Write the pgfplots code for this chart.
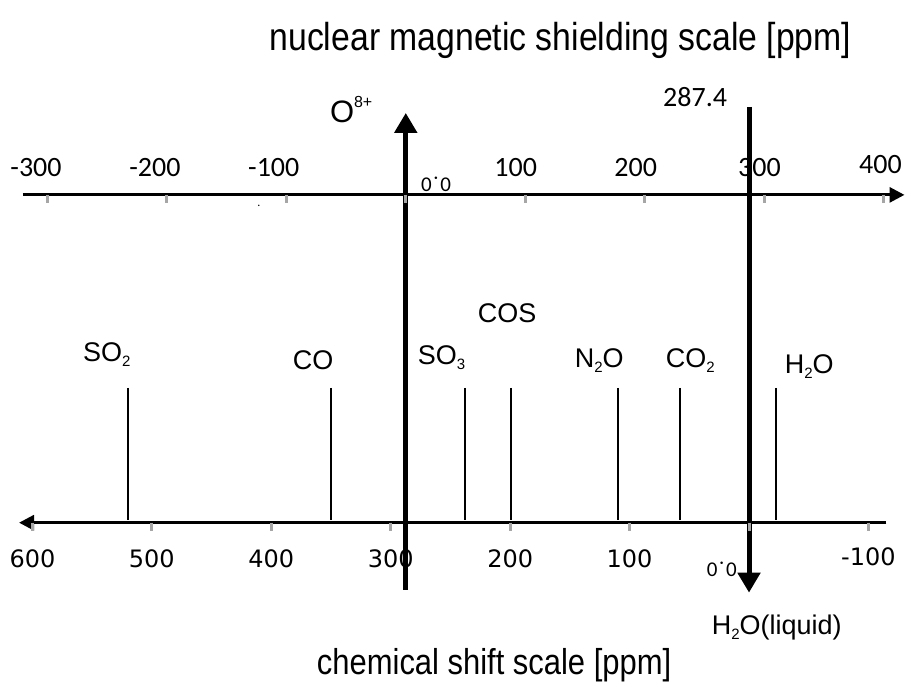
\documentclass[border=0pt]{standalone}
\usepackage{fontspec}
\setmainfont{Liberation Sans}
\newfontfamily\calibri{Carlito}
\newfontfamily\dejavu{DejaVu Sans}
\usepackage{graphicx}
\usepackage{pgfplots}
\pgfplotsset{compat=1.18}
\usepackage{pgfplotstable}
\usetikzlibrary{arrows.meta}

% 17O chemical shifts (ppm, relative to liquid water); mid = centre height of the stick
\pgfplotstableread{
delta mid
520 228
350 228
238 228
199 228
110 228
58  228
-23 228
}\molecules

% tick positions of the two scales
\pgfplotstableread{
sigma pos
-300 483
-200 483
-100 483
0    483
100  483
200  483
300  483
400  483
}\shieldticks

\pgfplotstableread{
delta pos
600  155
500  155
400  155
300  155
200  155
100  155
0    155
-100 155
}\shiftticks

\newcommand\fs[1]{\fontsize{#1}{#1}\selectfont}
\newcommand\lowidx[1]{\raisebox{-0.32ex}{\fs{15}#1}}
\newcommand\highidx[1]{\raisebox{0.95ex}{\fs{16}#1}}

\begin{document}
\begin{tikzpicture}
\begin{axis}[
  scale only axis, width=906pt, height=682pt,
  xmin=-339.75, xmax=418.41, ymin=0, ymax=682,
  hide axis, clip=false]
\path (rel axis cs:0,0) rectangle (rel axis cs:1,1);

% shielding scale (top), pointing right
\addplot[black, line width=3pt, -{Triangle[length=15pt,width=15pt]}]
  coordinates {(-320.5,487) (417.6,487)};
\addplot[only marks, mark=|, mark size=4pt, mark options={gray!70, line width=3pt}]
  table[x=sigma, y=pos] {\shieldticks};

% chemical shift scale (bottom), pointing left; sigma = 287.4 - delta
\addplot[black, line width=3pt, -{Triangle[length=15pt,width=15pt]}]
  coordinates {(402.5,159) (-323.8,159)};
\addplot[only marks, mark=|, mark size=4pt, mark options={gray!70, line width=3pt}]
  table[x expr=287.4-\thisrow{delta}, y=pos] {\shiftticks};

% molecules
\addplot[only marks, mark=|, mark size=66pt, mark options={black, line width=2pt}]
  table[x expr=287.4-\thisrow{delta}, y=mid] {\molecules};

% bare O8+ nucleus and liquid water references
\addplot[black, line width=5pt, -{Triangle[length=20pt,width=22pt]}]
  coordinates {(0,92) (0,569)};
\addplot[black, line width=5pt, -{Triangle[length=20pt,width=22pt]}]
  coordinates {(287.4,575) (287.4,89)};

% top tick labels
\begin{scope}[every node/.style={anchor=base, font=\calibri\fs{28}}]
\node at (axis cs:-309.6,505) {-300};
\node at (axis cs:-210.0,505) {-200};
\node at (axis cs:-110.5,505) {-100};
\node at (axis cs:92.1,505) {100};
\node at (axis cs:192.5,505) {200};
\node at (axis cs:296.2,505) {300};
\node at (axis cs:397.5,508) {400};
\node at (axis cs:212.6,575) [anchor=base west] {287.4};
\end{scope}
\node[anchor=base west, font=\calibri\fs{21}, inner sep=0pt] at (axis cs:12.6,490) {0\hspace{2pt}˙\hspace{2pt}0};
\node[anchor=base west, font=\calibri\fs{21}, inner sep=0pt] at (axis cs:251.9,105) {0\hspace{2pt}˙\hspace{2pt}0};
\node[anchor=base, font=\calibri\fs{12}] at (axis cs:-123,475) {.};

% bottom tick labels
\begin{scope}[every node/.style={anchor=base, font=\dejavu\fs{24}}]
\node at (axis cs:-312.6,114) {600};
\node at (axis cs:-212.6,114) {500};
\node at (axis cs:-112.6,114) {400};
\node at (axis cs:-12.6,114) {300};
\node at (axis cs:87.4,114) {200};
\node at (axis cs:187.4,114) {100};
\node at (axis cs:387.4,116) {-100};
\end{scope}

% molecule labels
\begin{scope}[every node/.style={anchor=base west, font=\fs{27}, inner sep=0pt}]
\node at (axis cs:-270.3,320) {SO\lowidx{2}};
\node at (axis cs:-94.6,312) {CO};
\node at (axis cs:10.0,317) {SO\lowidx{3}};
\node at (axis cs:60.3,359) {COS};
\node at (axis cs:141.4,314) {N\lowidx{2}O};
\node at (axis cs:217.6,314) {CO\lowidx{2}};
\node at (axis cs:317.2,308) {H\lowidx{2}O};
\node at (axis cs:256.1,47) {H\lowidx{2}O(liquid)};
\node[font=\fs{31}] at (axis cs:-63.6,559) {O\highidx{8+}};
\end{scope}

% scale titles
\node[anchor=base west, inner sep=0pt] at (axis cs:-114.2,631)
  {\scalebox{0.866}[1]{\fs{39}nuclear magnetic shielding scale [ppm]}};
\node[anchor=base west, inner sep=0pt] at (axis cs:-74.5,7.5)
  {\scalebox{0.86}[1]{\fs{36}chemical shift scale [ppm]}};
\end{axis}
\end{tikzpicture}
\end{document}
